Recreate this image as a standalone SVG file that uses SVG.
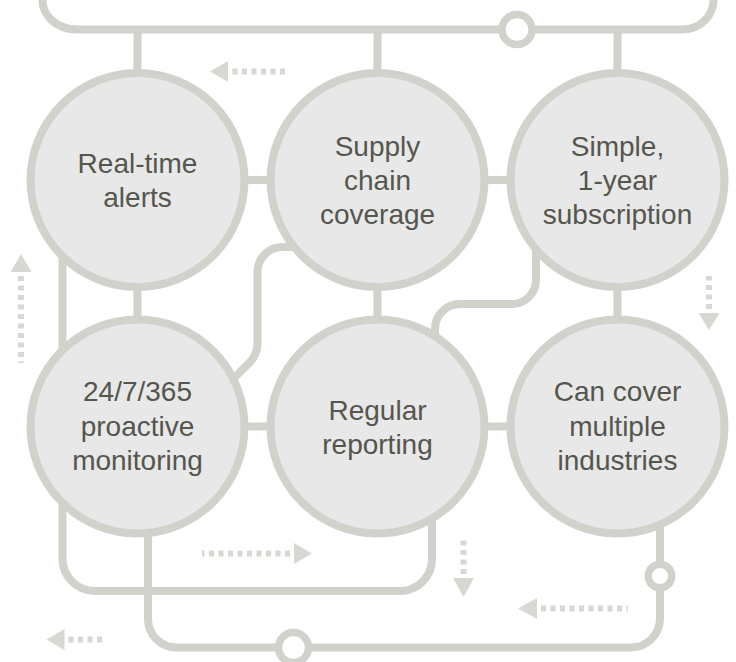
<svg xmlns="http://www.w3.org/2000/svg" width="736" height="662" viewBox="0 0 736 662">
  <style>
    .ln { fill: none; stroke: #d1d2cb; stroke-width: 8; }
    .ring { fill: #ffffff; stroke: #d1d2cb; }
    .node circle { fill: #e8e8e8; stroke: #d1d2cb; stroke-width: 8; }
    .node text { font-family: "Liberation Sans", Arial, sans-serif; font-size: 28px; fill: #55564e; text-anchor: middle; }
    .dash { fill: none; stroke: #d8d8d2; stroke-width: 6; stroke-dasharray: 5 4.5; }
    .head { fill: #d8d8d2; }
  </style>
  <rect width="736" height="662" fill="#ffffff"/>
  <g id="connectors">
    <path class="ln" d="M42.5,-10 V0 A34 29.5 0 0 0 76.5,29.5 H683 A30.5 30 0 0 0 713.5,-0.5 V-10"/>
    <path class="ln" d="M137.5,29.5 V80 M377.5,29.5 V80 M617.5,29.5 V80"/>
    <path class="ln" d="M137.5,180 H617.5 M137.5,426.5 H617.5"/>
    <path class="ln" d="M137.5,180 V426.5 M377.5,180 V426.5 M617.5,180 V426.5"/>
    <path class="ln" d="M62.5,250 V558.5 A32.5 32.5 0 0 0 95,591 H400 A32 32 0 0 0 432,559 V500"/>
    <path class="ln" d="M148,520 V619 A28.5 28.5 0 0 0 176.5,647.5 H631 A29 29 0 0 0 660,618.5 V510"/>
    <path class="ln" d="M300,247 H282.5 A25 25 0 0 0 257.5,272 V343 A28 28 0 0 1 249.3,362.8 L222,390"/>
    <path class="ln" d="M536,245 V280 A24 24 0 0 1 512,304 H460 A25 25 0 0 0 435,329 V345"/>
    <circle class="ring" cx="517" cy="29.5" r="15" stroke-width="7.5"/>
    <circle class="ring" cx="293.5" cy="647.5" r="15" stroke-width="7.5"/>
    <circle class="ring" cx="660" cy="576" r="11.75" stroke-width="7.5"/>
  </g>
  <g id="arrows">
    <polygon class="head" points="210,71.5 228,61 228,82"/>
    <path class="dash" d="M232.5,71.5 H285"/>
    <polygon class="head" points="21,254 10.5,272 31.5,272"/>
    <path class="dash" d="M21,276 V363"/>
    <polygon class="head" points="709,330 698.5,313 719.5,313"/>
    <path class="dash" d="M709,309 V276"/>
    <polygon class="head" points="312,553.5 294,543 294,564"/>
    <path class="dash" d="M290,553.5 H202"/>
    <polygon class="head" points="463.5,597 453,578 474,578"/>
    <path class="dash" d="M463.5,574 V540"/>
    <polygon class="head" points="518,608.5 537,598 537,619"/>
    <path class="dash" d="M541,608.5 H628"/>
    <polygon class="head" points="46.5,639.5 64.5,629 64.5,650"/>
    <path class="dash" d="M68.5,639.5 H104"/>
  </g>
  <g id="node-realtime" class="node">
    <circle cx="137.5" cy="180" r="107"/>
    <text x="137.5" y="173">Real-time</text>
    <text x="137.5" y="207">alerts</text>
  </g>
  <g id="node-supply" class="node">
    <circle cx="377.5" cy="180" r="107"/>
    <text x="377.5" y="156">Supply</text>
    <text x="377.5" y="190">chain</text>
    <text x="377.5" y="224">coverage</text>
  </g>
  <g id="node-simple" class="node">
    <circle cx="617.5" cy="180" r="107"/>
    <text x="617.5" y="156">Simple,</text>
    <text x="617.5" y="190">1-year</text>
    <text x="617.5" y="224">subscription</text>
  </g>
  <g id="node-monitoring" class="node">
    <circle cx="137.5" cy="426.5" r="107"/>
    <text x="137.5" y="401">24/7/365</text>
    <text x="137.5" y="435.5">proactive</text>
    <text x="137.5" y="470">monitoring</text>
  </g>
  <g id="node-reporting" class="node">
    <circle cx="377.5" cy="426.5" r="107"/>
    <text x="377.5" y="419.5">Regular</text>
    <text x="377.5" y="453.5">reporting</text>
  </g>
  <g id="node-industries" class="node">
    <circle cx="617.5" cy="426.5" r="107"/>
    <text x="617.5" y="401">Can cover</text>
    <text x="617.5" y="435.5">multiple</text>
    <text x="617.5" y="470">industries</text>
  </g>
</svg>
